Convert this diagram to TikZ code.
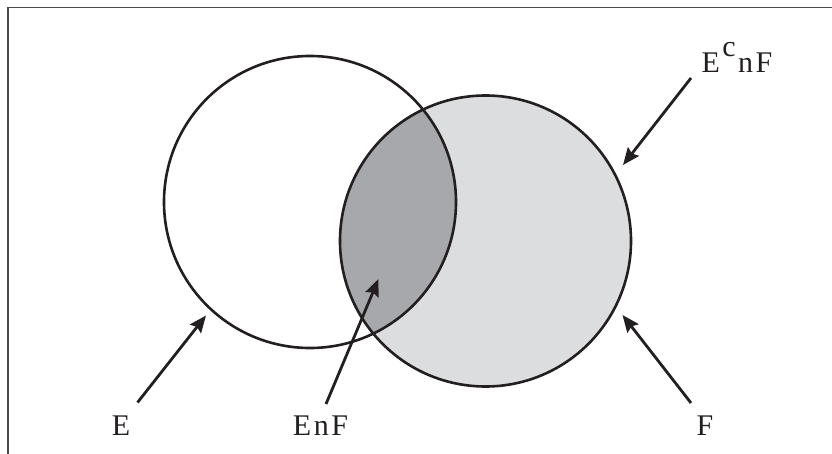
\documentclass[tikz,border=0pt]{standalone}
\usepackage{fontspec}
\setmainfont{Liberation Serif}
\usetikzlibrary{arrows.meta}
\definecolor{inkblack}{HTML}{231F20}
\definecolor{framegray}{HTML}{4A4A4A}
\definecolor{lightfill}{HTML}{DCDDDF}
\definecolor{darkfill}{HTML}{A7A8AB}
\newcommand{\lsp}{\kern2.5bp}
\tikzset{
  setline/.style={draw=inkblack, line width=2.6bp},
  pointer/.style={draw=inkblack, line width=2.8bp,
    -{Stealth[length=17bp, width=14bp, inset=2.5bp]}},
  setlabel/.style={inner sep=0pt, anchor=base, text=inkblack,
    font=\fontsize{30bp}{33bp}\selectfont},
}
\begin{document}
\begin{tikzpicture}[x=1bp, y=-1bp]
  \useasboundingbox (0,0) rectangle (832,454);

  % open frame: top and left edges
  \draw[framegray, line width=1.4bp] (832,7.5) -- (8,7.5) -- (8,454);

  % sets E and F
  \coordinate (cE) at (310,202);
  \coordinate (cF) at (485.5,241);
  \fill[lightfill] (cF) circle (145.5);
  \begin{scope}
    \clip (cE) circle (146);
    \fill[darkfill] (cF) circle (145.5);
  \end{scope}
  \draw[setline] (cE) circle (146);
  \draw[setline] (cF) circle (145.5);

  % labels
  \node[setlabel] (lE)   at (121,435.5) {E};
  \node[setlabel] (lEF)  at (320.5,435.5) {E\lsp n\lsp F};
  \node[setlabel] (lF)   at (705,435.5) {F};
  \node[setlabel] (lEcF) at (737,73) {E\lsp\raisebox{16bp}{c}\lsp n\lsp F};

  % pointer ends
  \coordinate (tE)   at (137.5,402.5);
  \coordinate (hE)   at (206,315.5);
  \coordinate (tEF)  at (326,404);
  \coordinate (hEF)  at (378.5,279);
  \coordinate (tF)   at (691,403);
  \coordinate (hF)   at (622.5,315);
  \coordinate (tEcF) at (691,78);
  \coordinate (hEcF) at (623,165);

  \draw[pointer] (tE) -- (hE);
  \draw[pointer] (tEF) -- (hEF);
  \draw[pointer] (tF) -- (hF);
  \draw[pointer] (tEcF) -- (hEcF);
\end{tikzpicture}
\end{document}
